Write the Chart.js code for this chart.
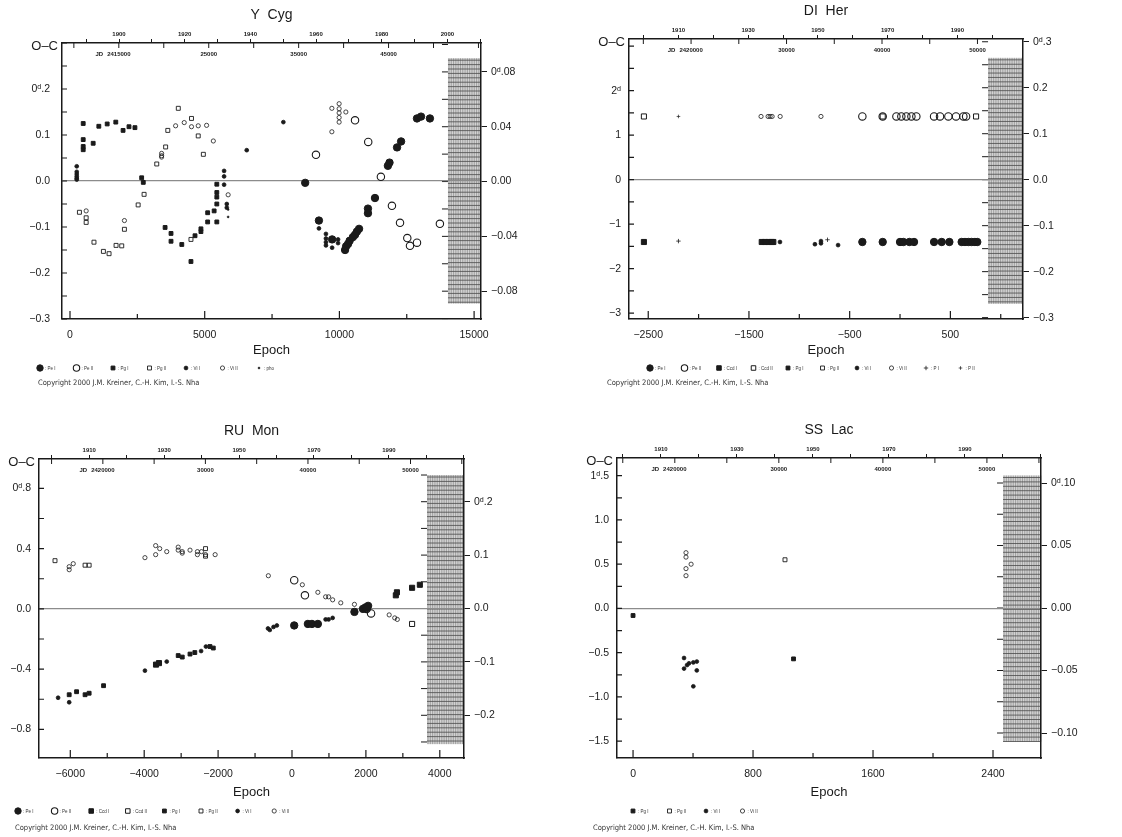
<!DOCTYPE html>
<html>
<head>
<meta charset="utf-8">
<title>O-C diagrams</title>
<script src="https://cdn.jsdelivr.net/npm/chart.js@4.4.1/dist/chart.umd.min.js"></script>
<style>
  html, body { margin: 0; padding: 0; background: #fff; }
  #wrap { position: relative; width: 1122px; height: 837px; overflow: hidden; }
  canvas { position: absolute; }
</style>
</head>
<body>
<div id="wrap">
  <canvas id="cYCyg" width="561" height="400" style="left:0;top:0"></canvas>
  <canvas id="cDIHer" width="561" height="400" style="left:561px;top:0"></canvas>
  <canvas id="cRUMon" width="561" height="437" style="left:0;top:400px"></canvas>
  <canvas id="cSSLac" width="561" height="437" style="left:561px;top:400px"></canvas>
</div>
<script>
/* O-C diagrams of four eclipsing binaries — Chart.js scatter panels */

// ── Data: [epoch, O-C in days] ──────────────────────────────────────────────

// Y Cyg
const yCygPeI = [[8730,-0.004],[9240,-0.086],[9730,-0.127],[10210,-0.150],[10250,-0.142],[10320,-0.137],
  [10380,-0.130],[10500,-0.122],[10580,-0.117],[10650,-0.110],[10730,-0.104],[11060,-0.060],[11060,-0.070],
  [11320,-0.037],[11800,0.033],[11860,0.040],[12140,0.073],[12290,0.086],[12880,0.136],[13030,0.140],[13360,0.136]];
const yCygPeII = [[9130,0.057],[10580,0.132],[11070,0.085],[11540,0.009],[11950,-0.054],[12250,-0.091],
  [12520,-0.124],[12620,-0.141],[12880,-0.134],[13730,-0.093]];
const yCygPgI = [[490,0.125],[490,0.090],[490,0.075],[490,0.068],[860,0.082],[1070,0.119],[1380,0.124],
  [1700,0.128],[1970,0.110],[2190,0.118],[2410,0.116],[2660,0.007],[2720,-0.003],[3530,-0.101],[3750,-0.114],
  [3750,-0.131],[4150,-0.138],[4490,-0.175],[4640,-0.119],[4860,-0.110],[4860,-0.104],[5110,-0.069],
  [5110,-0.089],[5350,-0.065],[5450,-0.089],[5450,-0.050],[5450,-0.035],[5450,-0.025],[5450,-0.007]];
const yCygPgII = [[350,-0.068],[600,-0.080],[600,-0.090],[890,-0.133],[1240,-0.153],[1450,-0.158],
  [1710,-0.140],[1920,-0.141],[2020,-0.105],[2530,-0.052],[2750,-0.029],[3220,0.037],[3550,0.074],
  [3630,0.110],[4020,0.158],[4510,0.136],[4760,0.098],[4950,0.058],[4490,-0.127]];
const yCygViI = [[250,0.032],[250,0.020],[250,0.015],[250,0.010],[250,0.006],[250,0.003],[5720,0.022],
  [5720,0.010],[5720,-0.008],[5820,-0.050],[5820,-0.058],[6560,0.067],[7920,0.128],[9240,-0.103],
  [9500,-0.115],[9500,-0.125],[9500,-0.133],[9500,-0.140],[9730,-0.145],[9950,-0.127],[9950,-0.135],[10210,-0.145]];
const yCygViII = [[600,-0.065],[2020,-0.086],[3400,0.060],[3400,0.055],[3400,0.052],[3920,0.120],
  [4240,0.127],[4510,0.118],[4760,0.120],[5070,0.121],[5320,0.087],[5870,-0.030],[9720,0.107],[9720,0.158],
  [9990,0.168],[9990,0.157],[9990,0.148],[9990,0.138],[9990,0.128],[10240,0.150]];
const yCygPho = [[5870,-0.062],[5870,-0.078]];

// DI Her
const diHerPeI = [[-374,-1.40],[-172,-1.40],[0,-1.40],[33,-1.40],[93,-1.40],[139,-1.40],[338,-1.40],
  [414,-1.40],[490,-1.40],[612,-1.40],[645,-1.40],[678,-1.40],[711,-1.40],[744,-1.40],[767,-1.40]];
const diHerPeII = [[-374,1.42],[-172,1.42],[-36,1.42],[13,1.42],[63,1.42],[113,1.42],[162,1.42],
  [338,1.42],[397,1.42],[480,1.42],[556,1.42],[629,1.42],[656,1.42]];
const diHerCcdI = [[-2543,-1.40],[-1373,-1.40],[-1340,-1.40],[-1307,-1.40],[-1274,-1.40],[-1258,-1.40]];
const diHerCcdII = [[-2543,1.42],[-172,1.42],[755,1.42]];
const diHerPgI = [];
const diHerPgII = [];
const diHerViI = [[-1192,-1.40],[-845,-1.45],[-785,-1.38],[-785,-1.43],[-615,-1.47]];
const diHerViII = [[-1380,1.42],[-1310,1.42],[-1290,1.42],[-1270,1.42],[-1190,1.42],[-785,1.42]];
const diHerPI = [[-2200,-1.38],[-720,-1.35]];
const diHerPII = [[-2200,1.42]];

// RU Mon
const ruMonPeI = [[60,-0.11],[430,-0.10],[540,-0.10],[700,-0.10],[1690,-0.02],[1920,0.00],[1990,0.01],
  [2020,0.005],[2060,0.02]];
const ruMonPeII = [[60,0.19],[350,0.09],[2020,0.00],[2140,-0.03]];
const ruMonCcdI = [[-3680,-0.37],[-3600,-0.36],[2810,0.09],[2840,0.11],[3250,0.14],[3460,0.16]];
const ruMonCcdII = [[3250,-0.10]];
const ruMonPgI = [[-6030,-0.57],[-5830,-0.55],[-5600,-0.57],[-5490,-0.56],[-5100,-0.51],[-3080,-0.31],
  [-2970,-0.32],[-2760,-0.30],[-2630,-0.29],[-2220,-0.25],[-2130,-0.26]];
const ruMonPgII = [[-6414,0.32],[-5600,0.29],[-5490,0.29],[-2340,0.35],[-2340,0.40]];
const ruMonViI = [[-6330,-0.59],[-6030,-0.62],[-3980,-0.41],[-3390,-0.35],[-2460,-0.28],[-2330,-0.25],
  [-650,-0.13],[-600,-0.14],[-500,-0.12],[-410,-0.11],[910,-0.07],[990,-0.07],[1100,-0.06]];
const ruMonViII = [[-6030,0.28],[-6030,0.26],[-5920,0.30],[-3980,0.34],[-3690,0.42],[-3690,0.36],
  [-3580,0.40],[-3390,0.38],[-3080,0.41],[-3080,0.39],[-2970,0.37],[-2970,0.38],[-2760,0.39],[-2560,0.38],
  [-2560,0.36],[-2450,0.38],[-2340,0.36],[-2080,0.36],[-640,0.22],[280,0.16],[700,0.11],[910,0.08],
  [990,0.08],[1100,0.06],[1320,0.04],[1690,0.03],[2630,-0.04],[2780,-0.06],[2850,-0.07]];

// SS Lac
const ssLacPgI = [[0,-0.08],[1070,-0.57]];
const ssLacPgII = [[1013,0.55]];
const ssLacViI = [[340,-0.56],[340,-0.68],[360,-0.64],[373,-0.62],[402,-0.61],[402,-0.88],[425,-0.60],[425,-0.70]];
const ssLacViII = [[353,0.63],[353,0.58],[353,0.45],[353,0.37],[387,0.50]];

// Top-axis JD labels
const jdLabelsYCyg = [2415000, 2425000, 2435000, 2445000];
const jdLabelsOther = [2420000, 2430000, 2440000, 2450000];

// ── Styles ───────────────────────────────────────────────────────────────────
const FONT = "'Liberation Sans', 'DejaVu Sans', Arial, sans-serif";
const INK = '#1a1a1a';

const STYLE = {
  'Pe I':   { style: 'circle', r: 3.7, fill: true,  bw: 1 },
  'Pe II':  { style: 'circle', r: 3.7, fill: false, bw: 1.1 },
  'Ccd I':  { style: 'rect',   r: 3.6, fill: true,  bw: 1 },
  'Ccd II': { style: 'rect',   r: 3.6, fill: false, bw: 1 },
  'Pg I':   { style: 'rect',   r: 2.7, fill: true,  bw: 1 },
  'Pg II':  { style: 'rect',   r: 2.8, fill: false, bw: 0.9 },
  'Vi I':   { style: 'circle', r: 1.9, fill: true,  bw: 0.8 },
  'Vi II':  { style: 'circle', r: 2.1, fill: false, bw: 0.8 },
  'P I':    { style: 'cross',  r: 2.2, fill: true,  bw: 0.8 },
  'P II':   { style: 'cross',  r: 1.8, fill: true,  bw: 0.7 },
  'pho':    { style: 'circle', r: 1.0, fill: true,  bw: 0.5 },
};

// ── Panel settings ───────────────────────────────────────────────────────────
const yCygPanel = {
  canvas: 'cYCyg', title: 'Y  Cyg',
  series: [['Pe I', yCygPeI], ['Pe II', yCygPeII], ['Pg I', yCygPgI], ['Pg II', yCygPgII],
           ['Vi I', yCygViI], ['Vi II', yCygViII], ['pho', yCygPho]],
  period: 2.9963, e0jd: 2409570,
  xMin: -297, xMax: 15256, xStep: 2500, xLabelStep: 5000, xLabelBase: 0,
  yMin: -0.3, yMax: 0.3, yStep: 0.05, yLabelStep: 0.1, yDec: 1, yD: 0.2, yLabelMax: 0.25,
  rMin: -0.1003, rMax: 0.1011, rStep: 0.02, rLabelStep: 0.04, rDec: 2, rD: 0.08,
  yearBase: 1900, yearLabelMax: 2005, jdLabels: jdLabelsYCyg,
  hatchFrom: 14030, hatchTop: 0.090, hatchBottom: -0.089,
  L: 62, T: 43, R: 481, bottomH: 39, padBottom: 42, leftPad: 12,
  legX: 40, legY: 368, legStep: 36.5, copyX: 38, copyY: 383,
};

const diHerPanel = {
  canvas: 'cDIHer', title: 'DI  Her',
  series: [['Pe I', diHerPeI], ['Pe II', diHerPeII], ['Ccd I', diHerCcdI], ['Ccd II', diHerCcdII],
           ['Pg I', diHerPgI], ['Pg II', diHerPgII], ['Vi I', diHerViI], ['Vi II', diHerViII],
           ['P I', diHerPI], ['P II', diHerPII]],
  period: 10.55, e0jd: 2441888,
  xMin: -2691, xMax: 1221, xStep: 500, xLabelStep: 1000, xLabelBase: -2500,
  yMin: -3.13, yMax: 3.16, yStep: 0.5, yLabelStep: 1, yDec: 0, yD: 2, yLabelMax: 2.5,
  rMin: -0.303, rMax: 0.306, rStep: 0.05, rLabelStep: 0.1, rDec: 1, rD: 0.3,
  yearBase: 1910, yearLabelMax: 1995, jdLabels: jdLabelsOther,
  hatchFrom: 874, hatchTop: 0.265, hatchBottom: -0.27,
  L: 68, T: 39, R: 462, bottomH: 39, padBottom: 42, leftPad: 8,
  legX: 89, legY: 368, legStep: 34.5, copyX: 46, copyY: 383,
};

const ruMonPanel = {
  canvas: 'cRUMon', title: 'RU  Mon',
  series: [['Pe I', ruMonPeI], ['Pe II', ruMonPeII], ['Ccd I', ruMonCcdI], ['Ccd II', ruMonCcdII],
           ['Pg I', ruMonPgI], ['Pg II', ruMonPgII], ['Vi I', ruMonViI], ['Vi II', ruMonViII]],
  period: 3.603, e0jd: 2438444,
  xMin: -6847, xMax: 4655, xStep: 1000, xLabelStep: 2000, xLabelBase: 0,
  yMin: -0.99, yMax: 0.995, yStep: 0.2, yLabelStep: 0.4, yDec: 1, yD: 0.8, yLabelMax: 0.9,
  rMin: -0.28, rMax: 0.28, rStep: 0.05, rLabelStep: 0.1, rDec: 1, rD: 0.2,
  yearBase: 1910, yearLabelMax: 1995, jdLabels: jdLabelsOther,
  hatchFrom: 3654, hatchTop: 0.25, hatchBottom: -0.254,
  L: 39, T: 59, R: 464, bottomH: 42, padBottom: 37, leftPad: 8,
  legX: 18, legY: 411, legStep: 36.6, copyX: 15, copyY: 428,
};

const ssLacPanel = {
  canvas: 'cSSLac', title: 'SS  Lac',
  series: [['Pg I', ssLacPgI], ['Pg II', ssLacPgII], ['Vi I', ssLacViI], ['Vi II', ssLacViII]],
  period: 14.416, e0jd: 2415987,
  xMin: -107, xMax: 2720, xStep: 400, xLabelStep: 800, xLabelBase: 0,
  yMin: -1.69, yMax: 1.70, yStep: 0.25, yLabelStep: 0.5, yDec: 1, yD: 1.5, yLabelMax: 1.6,
  rMin: -0.12, rMax: 0.12, rStep: 0.025, rLabelStep: 0.05, rDec: 2, rD: 0.10,
  yearBase: 1910, yearLabelMax: 1995, jdLabels: jdLabelsOther,
  hatchFrom: 2467, hatchTop: 0.106, hatchBottom: -0.107,
  L: 56, T: 58, R: 480, bottomH: 42, padBottom: 37, leftPad: 8,
  legX: 72, legY: 411, legStep: 36.5, copyX: 32, copyY: 428,
};

// ── Helpers ──────────────────────────────────────────────────────────────────

function jdToYear(jd) {
  return 1900 + (jd - 2415020.3) / 365.25;
}

function isMult(v, step, base) {
  const q = (v - (base || 0)) / step;
  return Math.abs(q - Math.round(q)) < 1e-6;
}

/** Tick text with the astronomical "d" mark on one value */
function fmtTick(v, dec, dAt) {
  let s = Math.abs(v).toFixed(dec);
  if (v < -1e-9) s = '\u2212' + s;
  if (dAt !== undefined && Math.abs(v - dAt) < 1e-9) {
    s = dec > 0 ? s.replace('.', '\u1D48.') : s + '\u1D48';
  }
  return s;
}

function stepValues(min, max, step) {
  const out = [];
  for (let k = Math.ceil(min / step - 1e-9); k * step <= max + 1e-9; k++) out.push(k * step);
  return out;
}

// ── Extra drawing (title, hatch box, inner ticks, JD labels, legend) ────────

function extrasPlugin(p) {
  return {
    id: 'extras',
    beforeDraw(chart) {
      const { ctx, chartArea: a, scales } = chart;
      ctx.save();
      ctx.fillStyle = '#fff';
      ctx.fillRect(0, 0, chart.width, chart.height);

      // hatched comparison box at the right
      const x0 = scales.x.getPixelForValue(p.hatchFrom);
      const x1 = a.right;
      const y0 = scales.yR.getPixelForValue(p.hatchTop);
      const y1 = scales.yR.getPixelForValue(p.hatchBottom);
      ctx.fillStyle = '#d4d4d4';
      ctx.fillRect(x0, y0, x1 - x0, y1 - y0);
      ctx.strokeStyle = '#8a8a8a';
      ctx.lineWidth = 0.7;
      ctx.beginPath();
      for (let x = x0 + 1; x < x1; x += 2.3) { ctx.moveTo(x, y0); ctx.lineTo(x, y1); }
      ctx.stroke();
      ctx.strokeStyle = '#4a4a4a';
      ctx.lineWidth = 0.8;
      ctx.beginPath();
      for (let y = y0 + 2; y < y1; y += 4.4) { ctx.moveTo(x0, y); ctx.lineTo(x1, y); }
      ctx.stroke();

      // right-axis ticks along the hatch's left side
      ctx.strokeStyle = INK;
      ctx.lineWidth = 1;
      ctx.beginPath();
      stepValues(p.rMin, p.rMax, p.rStep).forEach(v => {
        const y = scales.yR.getPixelForValue(v);
        ctx.moveTo(x0 - 6, y); ctx.lineTo(x0, y);
      });
      ctx.stroke();
      ctx.restore();
    },

    afterDraw(chart) {
      const { ctx, chartArea: a, scales } = chart;
      ctx.save();
      ctx.strokeStyle = INK;
      ctx.lineWidth = 1.2;

      // inward ticks: bottom and left
      ctx.beginPath();
      stepValues(p.xMin, p.xMax, p.xStep).forEach(v => {
        const x = scales.x.getPixelForValue(v);
        const len = isMult(v, p.xLabelStep, p.xLabelBase) ? 8 : 5;
        ctx.moveTo(x, a.bottom); ctx.lineTo(x, a.bottom - len);
      });
      stepValues(p.yMin, p.yMax, p.yStep).forEach(v => {
        const y = scales.y.getPixelForValue(v);
        ctx.moveTo(a.left, y); ctx.lineTo(a.left + 5, y);
      });
      ctx.stroke();

      // JD ticks (downward from the top frame) and labels
      const jdMin = p.e0jd + p.xMin * p.period;
      const jdMax = p.e0jd + p.xMax * p.period;
      ctx.lineWidth = 1;
      ctx.beginPath();
      stepValues(jdMin, jdMax, 5000).forEach(jd => {
        const x = scales.x.getPixelForValue((jd - p.e0jd) / p.period);
        ctx.moveTo(x, a.top); ctx.lineTo(x, a.top + 5);
      });
      ctx.stroke();

      ctx.fillStyle = INK;
      ctx.font = 'bold 6px ' + FONT;
      ctx.textBaseline = 'middle';
      p.jdLabels.forEach((jd, i) => {
        const x = scales.x.getPixelForValue((jd - p.e0jd) / p.period);
        const txt = i === 0 ? String(jd) : String(jd).slice(-5);
        ctx.textAlign = 'center';
        ctx.fillText(txt, x, a.top + 11);
        if (i === 0) {
          ctx.textAlign = 'right';
          ctx.fillText('JD', x - ctx.measureText(txt).width / 2 - 4, a.top + 11);
        }
      });

      // bottom tick labels, in case the axis skipped them
      const xs = scales.x;
      if (!xs._labelItems || !xs._labelItems.some(it => it.label)) {
        ctx.font = '10.5px ' + FONT;
        ctx.textAlign = 'center';
        ctx.textBaseline = 'middle';
        stepValues(p.xMin, p.xMax, p.xStep).forEach(v => {
          if (isMult(v, p.xLabelStep, p.xLabelBase)) {
            ctx.fillText(fmtTick(v, 0), xs.getPixelForValue(v), a.bottom + 16);
          }
        });
      }

      // title and O-C label
      ctx.font = '14px ' + FONT;
      ctx.textAlign = 'center';
      ctx.fillText(p.title, (a.left + a.right) / 2, a.top - 28);
      ctx.font = '13px ' + FONT;
      ctx.textAlign = 'right';
      ctx.fillText('O\u2013C', a.left - 4, a.top + 3);

      // legend row from the datasets
      const H = Chart.helpers;
      chart.data.datasets.forEach((ds, i) => {
        const x = p.legX + i * p.legStep;
        const y = p.legY;
        ctx.fillStyle = ds.pointBackgroundColor;
        ctx.strokeStyle = ds.pointBorderColor;
        ctx.lineWidth = ds.pointBorderWidth;
        H.drawPoint(ctx, { pointStyle: ds.pointStyle, radius: Math.min(ds.pointRadius, 3.2),
          rotation: 0, borderWidth: ds.pointBorderWidth }, x, y);
        ctx.fillStyle = '#333';
        ctx.font = '4.5px ' + FONT;
        ctx.textAlign = 'left';
        ctx.fillText(': ' + ds.label, x + 5, y + 0.5);
      });

      // copyright line
      ctx.fillStyle = '#333';
      ctx.font = "7.5px 'Liberation Sans Narrow', 'DejaVu Sans Condensed', " + FONT;
      ctx.textAlign = 'left';
      ctx.fillText('Copyright 2000 J.M. Kreiner, C.-H. Kim, I.-S. Nha', p.copyX, p.copyY);
      ctx.restore();
    },
  };
}

// ── Build one panel ──────────────────────────────────────────────────────────

function makePanel(p) {
  const canvas = document.getElementById(p.canvas);
  const W = canvas.width;
  const border = { display: true, color: INK, width: 1.5 };
  const tickFont = { family: FONT, size: 10.5 };

  const datasets = p.series.map(([name, pts]) => {
    const s = STYLE[name];
    return {
      label: name,
      data: pts.map(([x, y]) => ({ x, y })),
      pointStyle: s.style,
      pointRadius: s.r,
      pointBorderWidth: s.bw,
      pointBackgroundColor: s.fill ? INK : 'rgba(255,255,255,0)',
      pointBorderColor: INK,
      showLine: false,
    };
  });

  return new Chart(canvas, {
    type: 'scatter',
    data: { datasets },
    plugins: [extrasPlugin(p)],
    options: {
      responsive: false,
      animation: false,
      devicePixelRatio: 1,
      layout: { padding: { left: 0, right: 0, top: 0, bottom: p.padBottom } },
      plugins: { legend: { display: false }, tooltip: { enabled: false }, title: { display: false } },
      scales: {
        x: {
          type: 'linear', position: 'bottom', min: p.xMin, max: p.xMax,
          afterFit: s => { s.height = p.bottomH; },
          ticks: {
            stepSize: p.xStep, autoSkip: false, includeBounds: false, maxRotation: 0,
            padding: 10, color: INK, font: tickFont,
            callback: v => isMult(v, p.xLabelStep, p.xLabelBase) ? fmtTick(v, 0) : '',
          },
          grid: { display: true, drawOnChartArea: false, drawTicks: false, color: 'rgba(0,0,0,0)' },
          border,
          title: { display: true, text: 'Epoch', color: INK, font: { family: FONT, size: 13 }, padding: 0 },
        },
        xTop: {
          type: 'linear', position: 'top',
          min: jdToYear(p.e0jd + p.xMin * p.period),
          max: jdToYear(p.e0jd + p.xMax * p.period),
          afterFit: s => { s.height = p.T; },
          ticks: {
            stepSize: 10, autoSkip: false, includeBounds: false, maxRotation: 0,
            padding: 1, color: INK, font: { family: FONT, size: 6, weight: 'bold' },
            callback: v => (isMult(v, 20, p.yearBase) && v <= p.yearLabelMax) ? String(Math.round(v)) : '',
          },
          grid: { drawOnChartArea: false, drawTicks: true, tickLength: 4, color: INK, lineWidth: 1 },
          border,
        },
        y: {
          type: 'linear', position: 'left', min: p.yMin, max: p.yMax,
          afterFit: s => { s.width = p.L; },
          ticks: {
            stepSize: p.yLabelStep, autoSkip: false, includeBounds: false,
            padding: p.leftPad, color: INK, font: tickFont,
            callback: v => v <= p.yLabelMax ? fmtTick(v, p.yDec, p.yD) : '',
          },
          grid: {
            drawTicks: false, lineWidth: 1.2,
            color: c => (c.tick && Math.abs(c.tick.value) < 1e-9) ? '#8c8c8c' : 'rgba(0,0,0,0)',
          },
          border,
        },
        yR: {
          type: 'linear', position: 'right', min: p.rMin, max: p.rMax,
          afterFit: s => { s.width = W - p.R; },
          ticks: {
            stepSize: p.rLabelStep, autoSkip: false, includeBounds: false,
            padding: 4, color: INK, font: tickFont,
            callback: v => fmtTick(v, p.rDec, p.rD),
          },
          grid: { drawOnChartArea: false, drawTicks: true, tickLength: 6, color: INK, lineWidth: 1 },
          border,
        },
      },
    },
  });
}

// ── Initialisation ───────────────────────────────────────────────────────────
[yCygPanel, diHerPanel, ruMonPanel, ssLacPanel].forEach(makePanel);
</script>
</body>
</html>
